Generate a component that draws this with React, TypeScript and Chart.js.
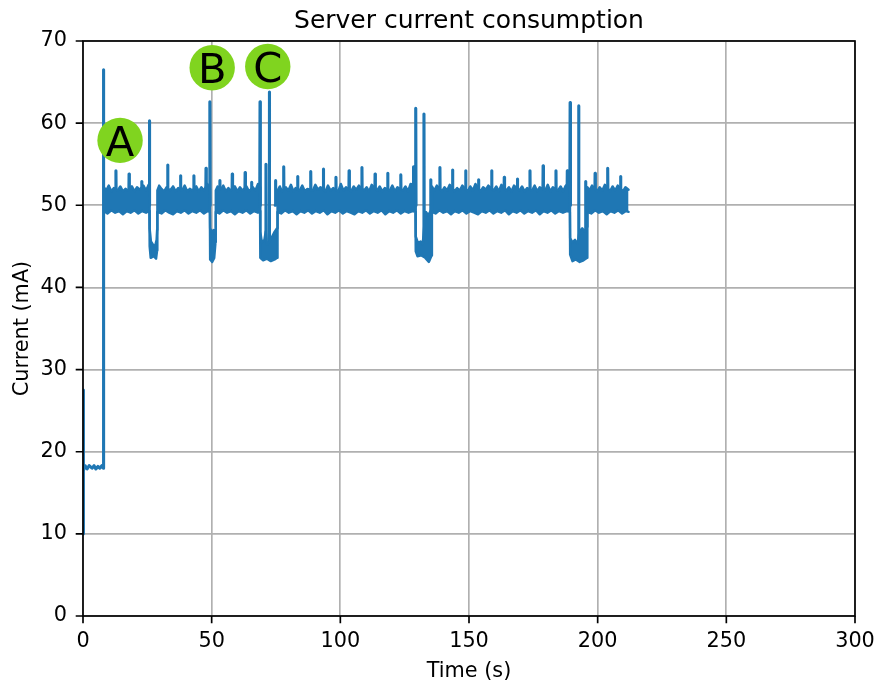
import React, { useEffect, useRef } from 'react';
import { Chart, registerables } from 'chart.js';

Chart.register(...registerables);

type Pt = [number, number];

const LINE_BLUE = '#1f77b4';
const MARK_GREEN = '#80d41f';
const FONT = "'DejaVu Sans', 'Liberation Sans', sans-serif";

const chartTitle = 'Server current consumption';
const xAxisTitle = 'Time (s)';
const yAxisTitle = 'Current (mA)';

const xTicks = [0, 50, 100, 150, 200, 250, 300];
const yTicks = [0, 10, 20, 30, 40, 50, 60, 70];

// Power-up: inrush, idle plateau, then the jump into the running state
const bootTrace: Pt[] = [
  [0.0, 10.0], [0.05, 27.5], [0.25, 17.7], [0.8, 18.3], [1.6, 17.9], [2.4, 18.3], [3.5, 18.0],
  [4.3, 18.3], [5.0, 17.9], [5.8, 18.2], [6.5, 18.0], [7.3, 18.3], [7.8, 18.0], [7.9, 66.5],
  [8.1, 50.0],
];

// Upper edge of the dense running-state band (including the dips)
const bandTop: Pt[] = [
  [8.1, 52.2], [9.0, 51.8], [10.0, 52.4], [11.0, 51.7], [12.0, 52.1], [13.5, 51.8], [14.5, 52.3],
  [15.5, 51.7], [16.5, 52.0], [17.5, 51.8], [19.0, 52.3], [20.0, 51.7], [21.0, 52.2], [22.0, 51.9],
  [23.5, 52.4], [24.5, 51.8], [25.5, 52.5], [25.8, 52.2],
  [25.9, 47.2], [26.4, 45.6], [27.2, 45.2], [28.0, 45.0], [28.6, 45.8], [28.8, 47.0],
  [28.9, 51.8], [29.6, 52.4], [30.5, 52.0], [31.5, 51.7], [32.5, 52.2], [33.8, 51.8], [35.0, 52.3],
  [36.0, 51.7], [37.0, 52.1], [38.5, 51.8], [39.5, 52.4], [40.5, 51.7], [41.5, 52.0], [42.5, 51.8],
  [44.0, 52.3], [45.0, 51.7], [46.0, 52.2], [47.0, 51.8], [48.3, 52.6], [49.3, 52.0],
  [49.4, 47.2], [50.0, 46.8], [50.8, 47.0], [51.4, 46.5],
  [51.6, 51.8], [52.3, 52.3], [53.5, 51.9], [54.5, 52.4], [55.5, 51.7], [56.5, 52.1], [57.5, 51.8],
  [59.0, 52.3], [60.0, 51.7], [61.0, 52.2], [62.0, 51.8], [63.5, 52.3], [64.5, 51.7], [66.0, 52.2],
  [67.0, 51.8], [68.0, 52.6], [68.8, 52.2],
  [68.9, 46.8], [69.5, 45.5], [70.5, 45.8], [71.0, 46.8], [71.5, 45.2], [72.5, 45.6], [73.5, 46.2],
  [74.5, 46.8], [75.4, 47.2],
  [75.6, 51.8], [76.5, 52.3], [77.3, 51.7], [78.8, 52.2], [79.8, 51.8], [80.8, 52.5], [81.8, 51.7],
  [82.6, 52.1], [84.2, 51.8], [85.2, 52.4], [86.2, 51.7], [87.2, 52.0], [89.3, 51.8], [90.3, 52.5],
  [91.3, 51.9], [92.3, 52.2], [94.2, 51.7], [95.2, 52.4], [96.2, 51.8], [97.2, 52.1], [99.2, 51.7],
  [100.2, 52.6], [101.2, 51.8], [102.2, 52.2], [104.2, 51.7], [105.2, 52.3], [106.2, 51.9],
  [107.2, 52.4], [109.2, 51.8], [110.2, 52.2], [111.2, 51.7], [112.2, 52.5], [114.3, 51.8],
  [115.3, 52.3], [116.3, 51.7], [117.3, 52.1], [119.2, 51.8], [120.2, 52.4], [121.2, 51.7],
  [122.2, 52.2], [124.3, 51.8], [125.3, 52.3], [126.3, 51.7], [127.3, 52.6], [129.2, 52.4],
  [129.3, 46.2], [130.2, 45.4], [131.2, 45.6], [132.0, 45.2], [132.6, 47.5], [133.2, 49.2],
  [134.2, 48.8], [135.4, 49.5],
  [135.6, 52.3], [136.5, 51.8], [137.5, 52.4], [139.5, 51.7], [140.5, 52.2], [141.5, 51.8],
  [142.5, 52.5], [144.4, 51.7], [145.4, 52.1], [146.4, 51.8], [147.4, 52.4], [149.5, 51.7],
  [150.5, 52.3], [151.5, 51.8], [152.5, 52.6], [154.5, 51.7], [155.5, 52.2], [156.5, 51.9],
  [157.5, 52.4], [159.6, 51.8], [160.6, 52.3], [161.6, 51.7], [162.6, 52.5], [164.5, 51.8],
  [165.5, 52.2], [166.5, 51.7], [167.5, 52.4], [169.6, 51.8], [170.6, 52.3], [171.6, 51.7],
  [172.6, 52.1], [174.5, 51.8], [175.5, 52.4], [176.5, 51.7], [177.5, 52.2], [179.6, 51.8],
  [180.6, 52.5], [181.6, 51.7], [182.6, 52.2], [184.6, 51.8], [185.6, 52.3], [186.6, 51.7],
  [187.6, 52.4], [189.2, 52.8],
  [189.3, 46.0], [190.2, 45.5], [191.2, 45.8], [192.2, 45.3], [192.9, 46.8], [194.0, 47.2],
  [195.0, 46.8], [195.9, 47.4],
  [196.0, 52.2], [196.8, 51.8], [197.8, 52.4], [199.8, 51.7], [200.8, 52.2], [201.8, 51.8],
  [202.8, 52.5], [204.8, 51.7], [205.8, 52.3], [206.8, 51.8], [207.8, 52.4], [209.8, 51.7],
  [210.8, 52.2], [212.0, 51.9],
];

// Lower edge of the same band
const bandBottom: Pt[] = [
  [8.1, 49.3], [9.5, 49.0], [11.0, 49.4], [12.5, 49.1], [14.0, 49.3], [15.5, 48.9], [17.0, 49.3],
  [18.5, 49.1], [20.0, 49.4], [21.5, 49.0], [23.0, 49.3], [24.5, 49.1], [25.8, 49.3],
  [25.9, 45.0], [26.3, 43.6], [27.5, 43.8], [28.4, 43.5], [28.8, 44.5],
  [28.9, 49.2], [30.5, 49.0], [32.0, 49.4], [33.5, 49.1], [35.0, 48.9], [36.5, 49.3], [38.0, 49.1],
  [39.5, 49.4], [41.0, 49.0], [42.5, 49.3], [44.0, 49.1], [45.5, 49.4], [47.0, 49.0], [48.5, 49.3],
  [49.3, 49.2],
  [49.4, 43.4], [50.2, 43.1], [51.0, 43.6], [51.5, 45.5],
  [51.6, 49.2], [53.0, 49.0], [54.5, 49.4], [56.0, 49.1], [57.5, 49.3], [59.0, 48.9], [60.5, 49.3],
  [62.0, 49.1], [63.5, 49.4], [65.0, 49.0], [66.5, 49.3], [68.0, 49.1], [68.8, 49.3],
  [68.9, 43.6], [70.0, 43.3], [71.5, 43.5], [73.0, 43.2], [74.5, 43.4], [75.4, 43.6],
  [75.6, 49.2], [77.0, 49.0], [78.5, 49.4], [80.0, 49.1], [81.5, 49.3], [83.0, 48.9], [84.5, 49.3],
  [86.0, 49.1], [87.5, 49.4], [89.0, 49.0], [90.5, 49.3], [92.0, 49.1], [93.5, 49.4], [95.0, 48.9],
  [96.5, 49.3], [98.0, 49.1], [99.5, 49.4], [101.0, 49.0], [102.5, 49.3], [104.0, 49.1],
  [105.5, 48.9], [107.0, 49.3], [108.5, 49.1], [110.0, 49.4], [111.5, 49.0], [113.0, 49.3],
  [114.5, 49.1], [116.0, 49.4], [117.5, 48.9], [119.0, 49.3], [120.5, 49.1], [122.0, 49.4],
  [123.5, 49.0], [125.0, 49.3], [126.5, 49.1], [128.0, 49.3], [129.2, 49.2],
  [129.3, 44.4], [130.0, 43.8], [131.5, 43.9], [133.0, 43.6], [134.4, 43.1], [135.5, 43.9],
  [135.6, 49.2], [137.0, 49.0], [138.5, 49.4], [140.0, 49.1], [141.5, 49.3], [143.0, 48.9],
  [144.5, 49.3], [146.0, 49.1], [147.5, 49.4], [149.0, 49.0], [150.5, 49.3], [152.0, 49.1],
  [153.5, 48.9], [155.0, 49.3], [156.5, 49.1], [158.0, 49.4], [159.5, 49.0], [161.0, 49.3],
  [162.5, 49.1], [164.0, 49.4], [165.5, 48.9], [167.0, 49.3], [168.5, 49.1], [170.0, 49.4],
  [171.5, 49.0], [173.0, 49.3], [174.5, 49.1], [176.0, 49.4], [177.5, 48.9], [179.0, 49.3],
  [180.5, 49.1], [182.0, 49.4], [183.5, 49.0], [185.0, 49.3], [186.5, 49.1], [188.0, 49.3],
  [189.2, 49.2],
  [189.3, 44.0], [190.2, 43.2], [191.5, 43.4], [193.0, 43.1], [194.5, 43.3], [195.9, 43.6],
  [196.0, 49.2], [197.5, 49.0], [199.0, 49.4], [200.5, 49.1], [202.0, 49.3], [203.5, 48.9],
  [205.0, 49.3], [206.5, 49.1], [208.0, 49.4], [209.5, 49.0], [211.0, 49.3], [212.0, 49.2],
];

// Short current spikes: time, level they rise from, peak value
const spikeTimes = [
  12.8, 17.9, 22.8, 25.8, 32.9, 37.9, 43.1, 47.8, 49.3, 53.2, 58.0, 63.0, 65.5, 68.8, 71.1, 72.4,
  74.8, 78.0, 83.4, 88.5, 93.4, 98.3, 103.4, 108.4, 113.5, 118.4, 123.5, 128.4, 129.3, 132.5,
  135.1, 138.7, 143.6, 148.7, 153.7, 158.8, 163.7, 168.8, 173.7, 178.8, 183.8, 188.2, 189.3,
  192.6, 193.8, 195.3, 199.0, 203.9, 208.9,
];
const spikeBases = [
  50, 50, 50, 50, 50, 50, 50, 50, 50, 50, 50, 50, 50, 50, 44, 44,
  50, 50, 50, 50, 50, 50, 50, 50, 50, 50, 50, 50, 50, 44,
  46, 50, 50, 50, 50, 50, 50, 50, 50, 50, 50, 50, 50,
  44, 44, 46, 50, 50, 50,
];
const spikePeaks = [
  54.2, 53.8, 52.9, 60.3, 54.9, 53.6, 53.6, 54.5, 62.6, 53.0, 53.8, 54.0, 52.8, 62.6, 55.0, 63.8,
  53.0, 54.7, 53.5, 54.1, 54.4, 53.4, 54.2, 54.6, 53.8, 53.9, 53.7, 54.7, 61.8, 61.1,
  53.1, 54.6, 54.3, 54.2, 53.1, 54.2, 53.4, 53.2, 54.2, 54.8, 54.2, 54.2, 62.5,
  62.1, 47.0, 52.9, 53.9, 54.5, 53.5,
];

// Event markers
const markerLabels = ['A', 'B', 'C'];
const markerTimes = [14.4, 50.2, 71.8];
const markerValues = [57.9, 66.75, 66.9];

const toXY = (pts: Pt[]) => pts.map(([x, y]) => ({ x, y }));

function spikePoints() {
  const out: { x: number; y: number | null }[] = [];
  spikeTimes.forEach((t, i) => {
    out.push({ x: t - 0.12, y: spikeBases[i] });
    out.push({ x: t, y: spikePeaks[i] });
    out.push({ x: t + 0.12, y: spikeBases[i] });
    out.push({ x: t + 0.13, y: null });
  });
  return out;
}

const framePlugin = {
  id: 'frame',
  afterDatasetsDraw(chart: any) {
    const { ctx, chartArea: a, scales } = chart;
    const xs = scales.x;
    const ys = scales.y;
    ctx.save();

    // event markers
    markerLabels.forEach((lab, i) => {
      const cx = xs.getPixelForValue(markerTimes[i]);
      const cy = ys.getPixelForValue(markerValues[i]);
      ctx.beginPath();
      ctx.arc(cx, cy, 22.7, 0, Math.PI * 2);
      ctx.fillStyle = MARK_GREEN;
      ctx.fill();
      ctx.fillStyle = '#000';
      ctx.font = `41.7px ${FONT}`;
      ctx.textAlign = 'center';
      ctx.textBaseline = 'alphabetic';
      ctx.fillText(lab, cx, cy + 15.2);
    });

    // axes frame
    ctx.strokeStyle = '#000';
    ctx.lineWidth = 1.67;
    ctx.lineCap = 'butt';
    ctx.strokeRect(a.left, a.top, a.right - a.left, a.bottom - a.top);

    // tick marks
    ctx.beginPath();
    xTicks.forEach((v) => {
      const px = xs.getPixelForValue(v);
      ctx.moveTo(px, a.bottom);
      ctx.lineTo(px, a.bottom + 7.3);
    });
    yTicks.forEach((v) => {
      const py = ys.getPixelForValue(v);
      ctx.moveTo(a.left, py);
      ctx.lineTo(a.left - 7.3, py);
    });
    ctx.stroke();

    // titles
    ctx.fillStyle = '#000';
    ctx.textAlign = 'center';
    ctx.textBaseline = 'alphabetic';
    ctx.font = `25px ${FONT}`;
    ctx.fillText(chartTitle, (a.left + a.right) / 2, 28.3);
    ctx.font = `20.8px ${FONT}`;
    ctx.fillText(xAxisTitle, (a.left + a.right) / 2, 676.5);
    ctx.translate(28.3, (a.top + a.bottom) / 2);
    ctx.rotate(-Math.PI / 2);
    ctx.fillText(yAxisTitle, 0, 0);
    ctx.restore();
  },
};

export default function App() {
  const canvasRef = useRef<HTMLCanvasElement | null>(null);

  useEffect(() => {
    if (!canvasRef.current) return;
    const lineStyle = {
      borderColor: LINE_BLUE,
      pointRadius: 0,
      pointHoverRadius: 0,
      borderJoinStyle: 'round' as const,
      borderCapStyle: 'round' as const,
      tension: 0,
    };
    const chart = new Chart(canvasRef.current, {
      type: 'line',
      data: {
        datasets: [
          { ...lineStyle, data: toXY(bandTop), borderWidth: 2.4, fill: false },
          {
            ...lineStyle,
            data: toXY(bandBottom),
            borderWidth: 2.4,
            fill: '-1',
            backgroundColor: LINE_BLUE,
          },
          { ...lineStyle, data: spikePoints() as any, borderWidth: 3.1, fill: false, spanGaps: false },
          { ...lineStyle, data: toXY(bootTrace), borderWidth: 3.1, fill: false },
        ],
      },
      options: {
        animation: false,
        responsive: true,
        maintainAspectRatio: false,
        events: [],
        layout: { padding: { left: 0, top: 41, right: 22, bottom: 0 } },
        plugins: {
          legend: { display: false },
          title: { display: false },
          tooltip: { enabled: false },
        },
        scales: {
          x: {
            type: 'linear',
            min: 0,
            max: 300,
            afterFit: (s: any) => {
              s.height = 66;
              s.paddingLeft = 0;
              s.paddingRight = 0;
            },
            border: { display: false },
            grid: { color: '#b0b0b0', lineWidth: 1.67, drawTicks: false },
            ticks: {
              stepSize: 50,
              padding: 13,
              color: '#000',
              font: { family: FONT, size: 20.8 },
              maxRotation: 0,
            },
          },
          y: {
            type: 'linear',
            min: 0,
            max: 70,
            afterFit: (s: any) => {
              s.width = 83;
              s.paddingTop = 0;
              s.paddingBottom = 0;
            },
            border: { display: false },
            grid: { color: '#b0b0b0', lineWidth: 1.67, drawTicks: false },
            ticks: {
              stepSize: 10,
              padding: 16,
              color: '#000',
              font: { family: FONT, size: 20.8 },
            },
          },
        },
      },
      plugins: [framePlugin],
    });
    return () => chart.destroy();
  }, []);

  return (
    <div style={{ position: 'fixed', left: 0, top: 0, width: 877, height: 682, background: '#fff' }}>
      <canvas ref={canvasRef} />
    </div>
  );
}
